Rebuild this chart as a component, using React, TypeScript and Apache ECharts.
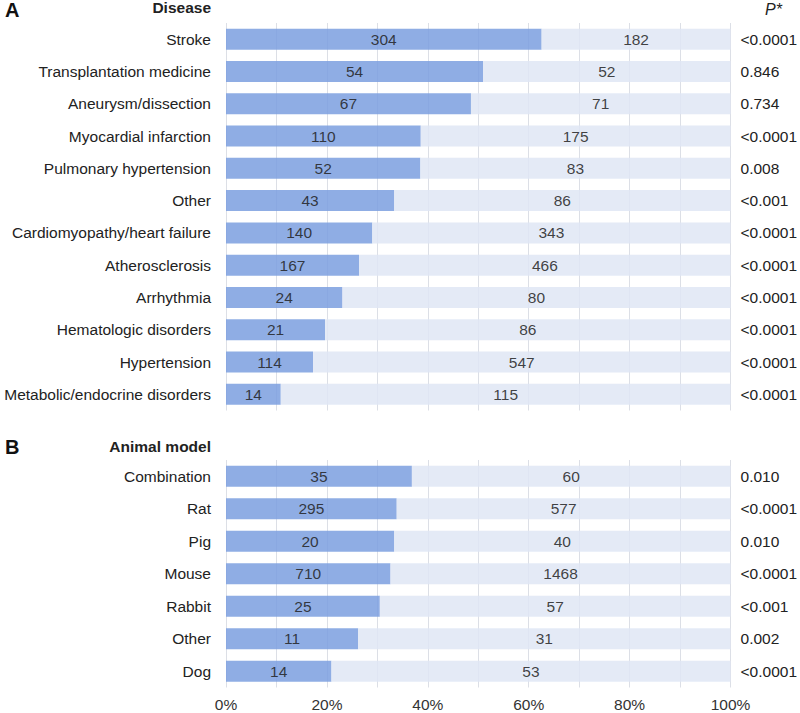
import React, { useEffect, useRef } from "react";
import * as echarts from "echarts";

const diseaseCats = ["Stroke", "Transplantation medicine", "Aneurysm/dissection", "Myocardial infarction", "Pulmonary hypertension", "Other", "Cardiomyopathy/heart failure", "Atherosclerosis", "Arrhythmia", "Hematologic disorders", "Hypertension", "Metabolic/endocrine disorders"];
const diseaseA = [304, 54, 67, 110, 52, 43, 140, 167, 24, 21, 114, 14];
const diseaseB = [182, 52, 71, 175, 83, 86, 343, 466, 80, 86, 547, 115];
const diseaseP = ["<0.0001", "0.846", "0.734", "<0.0001", "0.008", "<0.001", "<0.0001", "<0.0001", "<0.0001", "<0.0001", "<0.0001", "<0.0001"];

const animalCats = ["Combination", "Rat", "Pig", "Mouse", "Rabbit", "Other", "Dog"];
const animalA = [35, 295, 20, 710, 25, 11, 14];
const animalB = [60, 577, 40, 1468, 57, 31, 53];
const animalP = ["0.010", "<0.0001", "0.010", "<0.0001", "<0.001", "0.002", "<0.0001"];

const FONT = "Liberation Sans, Arial, sans-serif";
const FS = 15.5;
const DARK = "#7b9fdf";
const LIGHT = "#dfe6f5";

function pct(a: number[], b: number[]) {
  const pa = a.map((v, i) => ({ value: (v / (v + b[i])) * 100, raw: v }));
  const pb = b.map((v, i) => ({ value: (v / (a[i] + v)) * 100, raw: v }));
  return [pa, pb];
}

export default function App() {
  const ref = useRef<HTMLDivElement>(null);
  useEffect(() => {
    const chart = echarts.init(ref.current!, undefined, { renderer: "svg" });
    const [dA, dB] = pct(diseaseA, diseaseB);
    const [aA, aB] = pct(animalA, animalB);
    const label = {
      show: true,
      position: "inside" as const,
      color: "#222",
      fontSize: FS,
      fontFamily: FONT,
      formatter: (p: any) => String(p.data.raw),
    };
    const mkSeries = (data: any[], idx: number, color: string) => ({
      type: "bar",
      stack: "s" + idx,
      xAxisIndex: idx,
      yAxisIndex: idx * 2,
      barWidth: 21,
      data,
      itemStyle: { color, opacity: 0.85 },
      label,
    });
    const xAx = (idx: number, showLabels: boolean) => ({
      type: "value",
      gridIndex: idx,
      min: 0,
      max: 100,
      interval: 10,
      axisLine: { show: false },
      axisTick: { show: false },
      splitLine: { show: true, lineStyle: { color: "#dcdfe6", width: 1 } },
      axisLabel: {
        show: showLabels,
        color: "#333",
        fontSize: FS,
        fontFamily: FONT,
        margin: 9,
        formatter: (v: number) => (v % 20 === 0 ? v + "%" : ""),
      },
    });
    const yCat = (idx: number, data: string[]) => ({
      type: "category",
      gridIndex: idx,
      data,
      inverse: true,
      axisLine: { show: false },
      axisTick: { show: false },
      axisLabel: { color: "#222", fontSize: FS, fontFamily: FONT, margin: 15 },
    });
    const yP = (idx: number, data: string[]) => ({
      type: "category",
      gridIndex: idx,
      data,
      inverse: true,
      position: "right",
      axisLine: { show: false },
      axisTick: { show: false },
      axisLabel: { color: "#222", fontSize: FS, fontFamily: FONT, margin: 10, align: "left" },
    });
    chart.setOption({
      animation: false,
      grid: [
        { left: 226, right: 67.5, top: 23, height: 387.5 },
        { left: 226, right: 67.5, top: 460, height: 227.5 },
      ],
      xAxis: [xAx(0, false), xAx(1, true)],
      yAxis: [yCat(0, diseaseCats), yP(0, diseaseP), yCat(1, animalCats), yP(1, animalP)],
      series: [
        mkSeries(dA, 0, DARK),
        mkSeries(dB, 0, LIGHT),
        mkSeries(aA, 1, DARK),
        mkSeries(aB, 1, LIGHT),
      ],
      graphic: [
        { type: "text", left: 5, top: 0, style: { text: "A", font: "900 20px " + FONT, fill: "#111" } },
        { type: "text", right: 589, top: -1, style: { text: "Disease", font: "bold 15.5px " + FONT, fill: "#222" } },
        { type: "text", left: 765, top: 1, style: { text: "P*", font: "italic 16px " + FONT, fill: "#222" } },
        { type: "text", left: 5, top: 437, style: { text: "B", font: "900 20px " + FONT, fill: "#111" } },
        { type: "text", right: 589, top: 438, style: { text: "Animal model", font: "bold 15.5px " + FONT, fill: "#222" } },
      ],
    });
    return () => chart.dispose();
  }, []);
  return <div ref={ref} style={{ width: 800, height: 713, position: "absolute", left: 0, top: 0 }} />;
}
